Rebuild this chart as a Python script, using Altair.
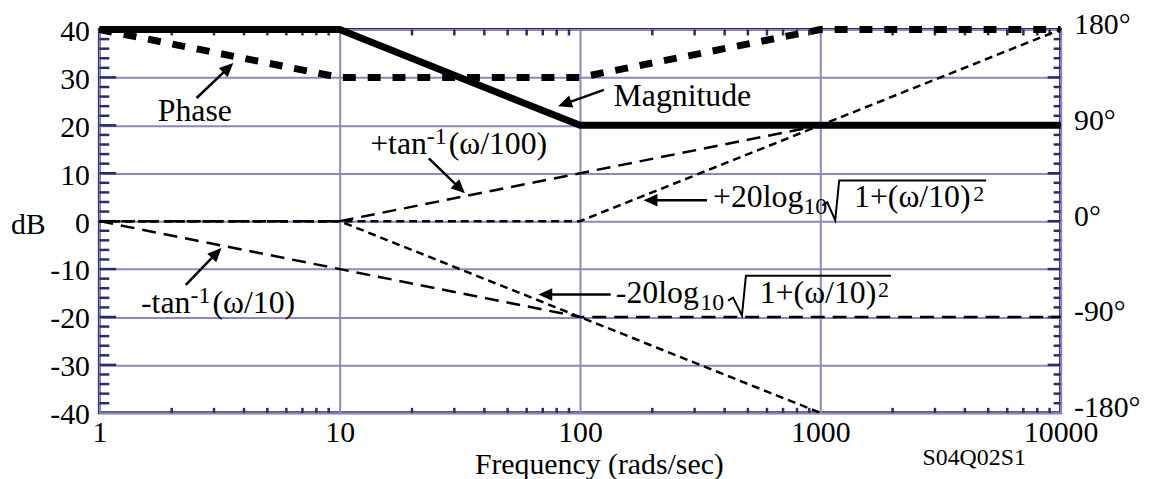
import math
import altair as alt
import pandas as pd

# ---------------- data ----------------
mag_freq = [1, 10, 100, 10000]
mag_db = [40, 40, 20, 20]
phase_freq = [1, 10, 100, 1000, 10000]
phase_db = [40, 30, 30, 40, 40]
ptan_freq = [1, 10, 1000, 10000]
ptan_db = [0, 0, 20, 20]
mtan_freq = [1, 100, 10000]
mtan_db = [0, -20, -20]
plog_freq = [1, 100, 10000]
plog_db = [0, 0, 40]
mlog_freq = [1, 10, 1000]
mlog_db = [0, 0, -40]

freq_ticks = [1, 10, 100, 1000, 10000]
db_ticks = [-40, -30, -20, -10, 0, 10, 20, 30, 40]
deg_ticks = [-40, -20, 0, 20, 40]          # dB positions of -180..180 degrees
deg_per_db = 4.5
minor_db = [v for v in range(-38, 40, 2) if v % 10 != 0]
major_db = [-30, -20, -10, 0, 10, 20, 30]
minor_freq = [d * k for d in (1, 10, 100, 1000) for k in range(2, 10)]

# annotation anchors (data coordinates: frequency, dB)
anchor_freq = [1.75, 138, 13.4, 358, 141, 1.49]
anchor_db = [20.9, 24.0, 14.1, 2.9, -17.0, -19.1]
# pieces: anchor index, text, x offset px, y offset px, font size
piece_anchor = [0, 1, 2, 2, 2, 3, 3, 3, 3, 4, 4, 4, 4, 5, 5, 5]
piece_text = ["Phase", "Magnitude", "+tan", "-1", "(ω/100)",
              "+20log", "10", "1+(ω/10)", "2",
              "-20log", "10", "1+(ω/10)", "2",
              "-tan", "-1", "(ω/10)"]
piece_dx = [0, 0, 0, 57, 79, 0, 91, 142, 262, 0, 85, 145, 264, 0, 50, 72]
piece_dy = [0, 0, 0, -10, 0, 0, 7, 0, -6, 0, 7, 0, -6, 0, -10, 0]
piece_size = [32, 32, 32, 24, 32, 32, 24, 32, 22, 32, 24, 32, 22, 32, 24, 32]

# radical signs (anchor index + offsets in px relative to the anchor baseline)
rad_anchor = [3, 4]
rad_dx = [[110, 115, 123, 127, 275], [113, 118, 127, 131, 277]]
rad_dy = [[-2, -5, 13, -27, -27], [-2, -5, 13, -27, -27]]

# arrows: tail -> head (data coordinates)
arrow_tail_freq = [2.54, 125.7, 23.5, 338, 134.3, 2.29]
arrow_tail_db = [25.7, 27.4, 13.1, 4.35, -15.3, -13.3]
arrow_head_freq = [3.61, 81.1, 33.2, 183.9, 67.1, 3.22]
arrow_head_db = [33.0, 24.0, 5.8, 4.35, -15.3, -5.6]

# ---------------- layout / style ----------------
W, H = 968, 386
PX_DEC = W / 4.0
PX_DB = H / 80.0
NAVY = "#2b2a70"
GRID = "#8d88bb"
FONT = "Liberation Serif"

xscale = alt.Scale(type="log", domain=[1, 10000], nice=False)
yscale = alt.Scale(domain=[-40, 40], nice=False, zero=False)


def shift(f, d, dx, dy):
    return f * 10 ** (dx / PX_DEC), d - dy / PX_DB


def to_px(f, d):
    return math.log10(f) * PX_DEC, -d * PX_DB


def from_px(px, py):
    return 10 ** (px / PX_DEC), -py / PX_DB


def xenc(field="x"):
    return alt.X(f"{field}:Q", scale=xscale, axis=None)


def yenc(field="y"):
    return alt.Y(f"{field}:Q", scale=yscale, axis=None)


def line_layer(fx, fy, width, dash=None):
    df = pd.DataFrame({"x": fx, "y": fy, "i": list(range(len(fx)))})
    kw = dict(color="black", strokeWidth=width, strokeCap="butt", strokeJoin="miter")
    if dash:
        kw["strokeDash"] = dash
    return alt.Chart(df).mark_line(**kw).encode(x=xenc(), y=yenc(), order="i:Q")


AX = dict(labelFont=FONT, titleFont=FONT, labelColor="black", titleColor="black",
          titleFontWeight="normal", labelFontSize=30, ticks=False, domain=False,
          labelFlush=False, labelOverlap=False)

# ---- tick layers (inside ticks) carrying the axes ----
left_minor = alt.Chart(pd.DataFrame({"v": minor_db})).mark_rule(
    color=NAVY, strokeWidth=2.5).encode(
    y=alt.Y("v:Q", scale=yscale,
            axis=alt.Axis(values=db_ticks, grid=True, gridColor=GRID, gridWidth=2,
                          gridOpacity=1, labelExpr="datum.value + ''",
                          labelPadding=10, labelOffset=2,
                          title="dB", titleAngle=0, titleX=-72, titleY=205,
                          titleAlign="center", titleBaseline="alphabetic",
                          titleFontSize=30, **AX)),
    x=alt.value(0), x2=alt.value(10))

left_major = alt.Chart(pd.DataFrame({"v": major_db})).mark_rule(
    color=NAVY, strokeWidth=2.5).encode(
    y=yenc("v"), x=alt.value(0), x2=alt.value(17))

bottom_minor = alt.Chart(pd.DataFrame({"f": minor_freq})).mark_rule(
    color=NAVY, strokeWidth=2.5).encode(
    x=alt.X("f:Q", scale=xscale,
            axis=alt.Axis(values=freq_ticks, grid=True, gridColor=GRID, gridWidth=2,
                          gridOpacity=1, labelExpr="datum.value + ''",
                          labelPadding=5,
                          title="Frequency (rads/sec)", titleFontSize=30,
                          titleX=503, titleY=61,
                          titleAlign="center", titleBaseline="alphabetic", **AX)),
    y=alt.value(H), y2=alt.value(H - 5))

top_minor = alt.Chart(pd.DataFrame({"f": minor_freq})).mark_rule(
    color=NAVY, strokeWidth=2.5).encode(
    x=xenc("f"), y=alt.value(0), y2=alt.value(6))

right_minor = alt.Chart(pd.DataFrame({"v": minor_db})).mark_rule(
    color=NAVY, strokeWidth=2.5).encode(
    y=alt.Y("v:Q", scale=yscale,
            axis=alt.Axis(orient="right", values=deg_ticks, grid=False, title=None,
                          labelExpr=f"(datum.value * {deg_per_db}) + '°'",
                          labelPadding=13, labelOffset=-5, **AX)),
    x=alt.value(W), x2=alt.value(W - 7))
right_major = alt.Chart(pd.DataFrame({"v": major_db})).mark_rule(
    color=NAVY, strokeWidth=2.5).encode(
    y=yenc("v"), x=alt.value(W), x2=alt.value(W - 13))

# ---- curves ----
l_ptan = line_layer(ptan_freq, ptan_db, 2.5, [14, 8])
l_mtan = line_layer(mtan_freq, mtan_db, 2.5, [14, 8])
l_plog = line_layer(plog_freq, plog_db, 2.5, [8, 5])
l_mlog = line_layer(mlog_freq, mlog_db, 2.5, [8, 5])
l_phase = line_layer(phase_freq, phase_db, 7, [13, 12])
l_mag = line_layer(mag_freq, mag_db, 7)

# ---- annotation text ----
tx, ty = [], []
for a, dx, dy in zip(piece_anchor, piece_dx, piece_dy):
    f, d = shift(anchor_freq[a], anchor_db[a], dx, dy)
    tx.append(f)
    ty.append(d)
text_df = pd.DataFrame({"x": tx, "y": ty, "t": piece_text, "s": piece_size})
texts = alt.Chart(text_df).mark_text(
    align="left", baseline="alphabetic", font=FONT, color="black").encode(
    x=xenc(), y=yenc(), text="t:N", size=alt.Size("s:Q", scale=None))

# ---- radical signs ----
rows = []
for g, (a, dxs, dys) in enumerate(zip(rad_anchor, rad_dx, rad_dy)):
    for i, (dx, dy) in enumerate(zip(dxs, dys)):
        f, d = shift(anchor_freq[a], anchor_db[a], dx, dy)
        rows.append({"x": f, "y": d, "g": g, "i": i})
rad = alt.Chart(pd.DataFrame(rows)).mark_line(
    color="black", strokeWidth=2, strokeJoin="miter").encode(
    x=xenc(), y=yenc(), detail="g:N", order="i:Q")

# ---- arrows ----
shaft_rows, head_rows = [], []
for tf, td, hf, hd in zip(arrow_tail_freq, arrow_tail_db, arrow_head_freq, arrow_head_db):
    tpx, tpy = to_px(tf, td)
    hpx, hpy = to_px(hf, hd)
    vx, vy = hpx - tpx, hpy - tpy
    L = math.hypot(vx, vy)
    ux, uy = vx / L, vy / L
    ef, ed = from_px(hpx - ux * 10, hpy - uy * 10)
    shaft_rows.append({"x": tf, "y": td, "x2": ef, "y2": ed})
    ang = math.degrees(math.atan2(vx, -vy)) % 360
    head_rows.append({"x": hf, "y": hd, "a": ang})

shafts = alt.Chart(pd.DataFrame(shaft_rows)).mark_rule(
    color="black", strokeWidth=2.5).encode(
    x=xenc(), y=yenc(), x2="x2:Q", y2="y2:Q")
heads = alt.Chart(pd.DataFrame(head_rows)).mark_point(
    shape="M0,0L-0.45,1L0.45,1Z", filled=True, color="black", opacity=1,
    size=784, strokeWidth=0).encode(
    x=xenc(), y=yenc(), angle=alt.Angle("a:Q", scale=None))

code_label = alt.Chart(pd.DataFrame({"t": ["S04Q02S1"]})).mark_text(
    align="right", baseline="alphabetic", font=FONT, fontSize=24, color="black").encode(
    text="t:N", x=alt.value(933), y=alt.value(439))

chart = alt.layer(
    left_minor, right_minor, bottom_minor, left_major, right_major, top_minor,
    l_ptan, l_mtan, l_plog, l_mlog, l_phase, l_mag,
    rad, shafts, heads, texts, code_label,
).resolve_scale(x="independent", y="independent").properties(
    width=W, height=H,
    padding={"left": 92, "top": 20, "right": 83, "bottom": 65},
    autosize=alt.AutoSizeParams(type="none"),
    background="white",
).configure(font=FONT).configure_view(stroke=NAVY, strokeWidth=3).configure_axis(
    labelFont=FONT, titleFont=FONT)

chart.save("out.html", embed_options={"renderer": "svg", "actions": False})
